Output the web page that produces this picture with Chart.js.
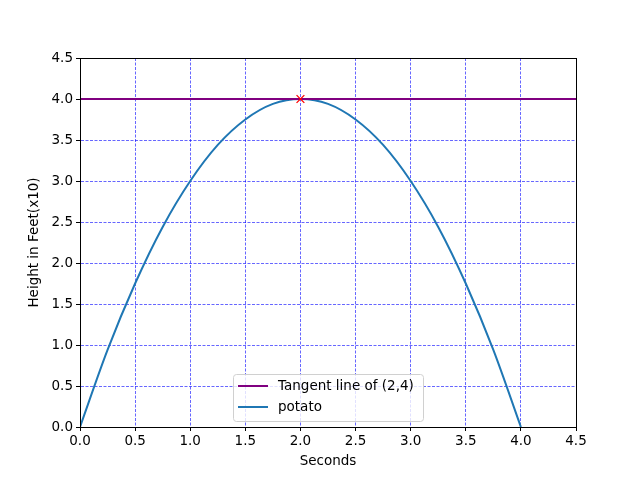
<!DOCTYPE html>
<html>
<head>
    <title>Potato Height</title>
    <script src="https://cdn.jsdelivr.net/npm/chart.js"></script>
    <style>
body { margin: 0; background: #fff; }
canvas { display: block; }
    </style>
</head>
<body>
  <canvas id="myChart" width="640" height="480"></canvas>
    <script>
        // Values
        const seconds = [0, 0.25, 0.5, 0.75, 1, 1.25, 1.5, 1.75, 2, 2.25, 2.5, 2.75, 3, 3.25, 3.5, 3.75, 4];
        const height = [0, 0.94, 1.75, 2.44, 3.0, 3.44, 3.75, 3.94, 4.0, 3.94, 3.75, 3.44, 3.0, 2.44, 1.75, 0.94, 0];
        const tangentX = [0, 4.5];
        const tangentY = [4, 4];
        const markX = [2];
        const markY = [4];
        const labels = ['Tangent line of (2,4)', 'potato'];

        const toPoints = (xs, ys) => xs.map((x, i) => ({ x: x, y: ys[i] }));
        const font = { family: 'DejaVu Sans', size: 13.5 };

        // black box round the plot area, like matplotlib spines
        const frame = {
          id: 'frame',
          afterDatasetsDraw(chart) {
            const a = chart.chartArea, c = chart.ctx;
            c.save();
            c.strokeStyle = '#000';
            c.lineWidth = 1;
            c.strokeRect(Math.round(a.left) + 0.5, Math.round(a.top) + 0.5,
                         Math.round(a.right - a.left), Math.round(a.bottom - a.top));
            c.restore();
          }
        };

        // legend inside the plot, lower centre
        const boxLegend = {
          id: 'boxLegend',
          afterDraw(chart) {
            const c = chart.ctx;
            const x0 = 233, y0 = 374, w = 190, h = 47;
            c.save();
            c.fillStyle = 'rgba(255,255,255,0.8)';
            c.strokeStyle = '#d0d0d0';
            c.lineWidth = 1;
            c.beginPath();
            c.roundRect(x0 + 0.5, y0 + 0.5, w, h, 3);
            c.fill();
            c.stroke();
            c.font = '13.5px "DejaVu Sans"';
            c.textBaseline = 'middle';
            [0, 1].forEach(i => {
              const ds = chart.data.datasets[i];
              const y = y0 + 12 + i * 21;
              c.strokeStyle = ds.borderColor;
              c.lineWidth = 2;
              c.beginPath();
              c.moveTo(238, y);
              c.lineTo(268, y);
              c.stroke();
              c.fillStyle = '#000';
              c.fillText(ds.label, 278, y);
            });
            c.restore();
          }
        };

        const gridStyle = {
          color: 'blue',
          lineWidth: 0.6,
          tickColor: '#000',
          tickWidth: 1,
          tickLength: 4,
          tickBorderDash: [],
        };

        const ctx = document.getElementById('myChart').getContext('2d');
        const potatoChart = new Chart(ctx, {
          type: 'line',
          data: {
            datasets: [
              {
                label: labels[0],
                data: toPoints(tangentX, tangentY),
                borderColor: '#800080',
                borderWidth: 2,
                pointRadius: 0,
                order: 2,
              },
              {
                label: labels[1],
                data: toPoints(seconds, height),
                borderColor: '#1f77b4',
                borderWidth: 2,
                pointRadius: 0,
                cubicInterpolationMode: 'monotone',
                order: 3,
              },
              {
                label: 'mark',
                data: toPoints(markX, markY),
                showLine: false,
                pointStyle: 'crossRot',
                pointRadius: 5.5,
                pointBorderColor: 'red',
                pointBorderWidth: 1.3,
                order: 1,
              },
            ],
          },
          options: {
            responsive: false,
            animation: false,
            layout: { padding: { left: 0, right: 64, top: 58, bottom: 0 } },
            plugins: { legend: { display: false }, tooltip: { enabled: false } },
            scales: {
              x: {
                type: 'linear',
                min: 0,
                max: 4.5,
                afterFit: s => { s.height = 53; },
                ticks: { stepSize: 0.5, color: '#000', font: font, padding: 2,
                         callback: v => v.toFixed(1), autoSkip: false, maxRotation: 0 },
                grid: Object.assign({}, gridStyle),
                border: { color: '#000', dash: [3, 1.5] },
                title: { display: true, text: 'Seconds', color: '#000', font: font, padding: { top: 2, bottom: 10 } },
              },
              y: {
                min: 0,
                max: 4.5,
                afterFit: s => { s.width = 80; },
                ticks: { stepSize: 0.5, color: '#000', font: font, padding: 3,
                         callback: v => v.toFixed(1) },
                grid: Object.assign({}, gridStyle),
                border: { color: '#000', dash: [3, 1.5] },
                title: { display: true, text: 'Height in Feet(x10)', color: '#000', font: font, padding: { top: 26, bottom: 6 } },
              },
            },
          },
          plugins: [frame, boxLegend],
        });
    </script>
</body>
</html>
